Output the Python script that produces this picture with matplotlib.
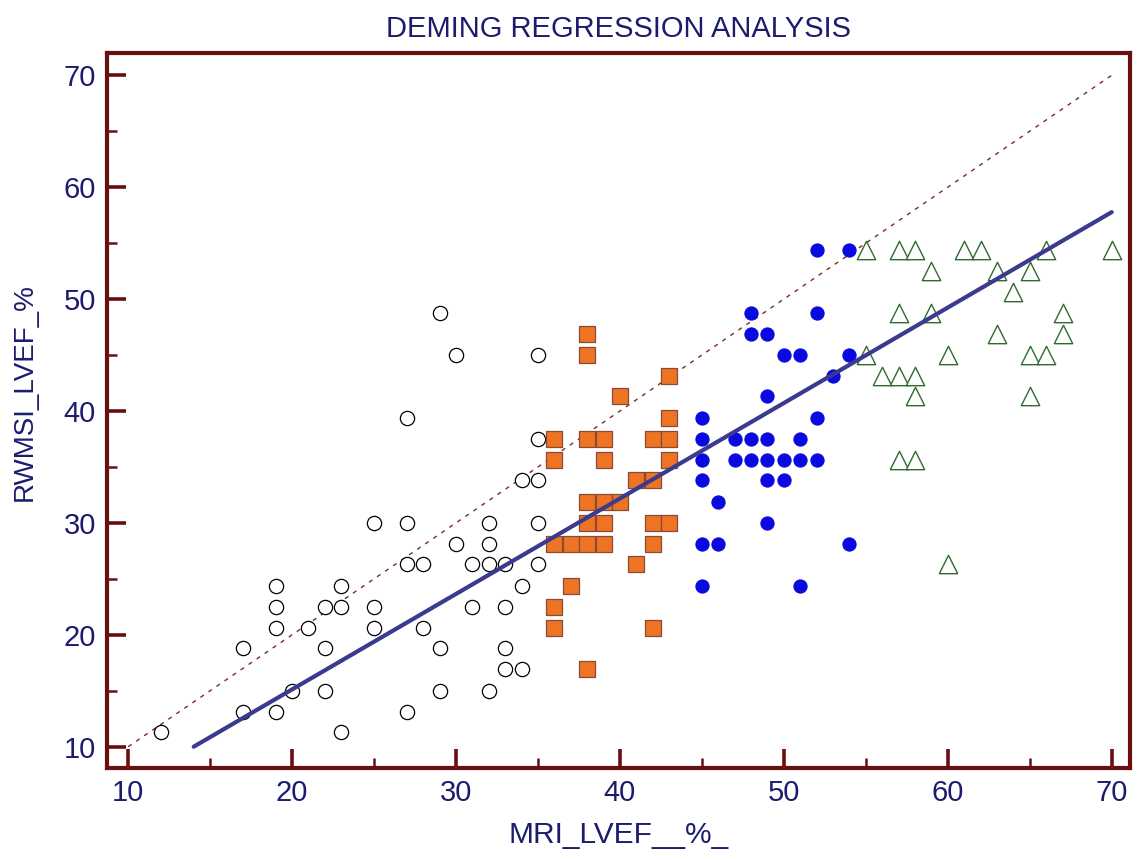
# Deming regression scatter: RWMSI LVEF vs MRI LVEF, grouped in four classes
import matplotlib
matplotlib.use("Agg")
import matplotlib.pyplot as plt
from matplotlib.ticker import MultipleLocator

plt.rcParams["font.family"] = ["Liberation Sans", "DejaVu Sans"]

NAVY = "#1c1c6e"
MAROON = "#6a0f0f"

# ---- group 1: open circles (MRI < 36) ----
circ_x = [12, 17, 17, 19, 19, 19, 19, 20, 21, 22, 22, 22, 23, 23, 23,
          25, 25, 25, 27, 27, 27, 27, 28, 28, 29, 29, 29, 30, 30,
          31, 31, 32, 32, 32, 32, 33, 33, 33, 33, 34, 34, 34,
          35, 35, 35, 35, 35]
circ_y = [11.3, 18.8, 13.1, 24.4, 22.5, 20.6, 13.1, 15.0, 20.6, 22.5, 18.8, 15.0, 24.4, 22.5, 11.3,
          30.0, 22.5, 20.6, 39.4, 30.0, 26.3, 13.1, 26.3, 20.6, 48.8, 18.8, 15.0, 45.0, 28.1,
          26.3, 22.5, 30.0, 28.1, 26.3, 15.0, 26.3, 22.5, 18.8, 16.9, 33.8, 24.4, 16.9,
          45.0, 37.5, 33.8, 30.0, 26.3]

# ---- group 2: orange squares (36-43) ----
sq_x = [36, 36, 36, 36, 36,
        37, 37,
        38, 38, 38, 38, 38, 38, 38,
        39, 39, 39, 39, 39,
        40, 40,
        41, 41,
        42, 42, 42, 42, 42,
        43, 43, 43, 43, 43]
sq_y = [37.5, 35.6, 28.1, 22.5, 20.6,
        28.1, 24.4,
        46.9, 45.0, 37.5, 31.9, 30.0, 28.1, 16.9,
        37.5, 35.6, 31.9, 30.0, 28.1,
        41.3, 31.9,
        33.8, 26.3,
        37.5, 33.8, 30.0, 28.1, 20.6,
        43.1, 39.4, 37.5, 35.6, 30.0]

# ---- group 3: blue dots (45-54) ----
dot_x = [45, 45, 45, 45, 45, 45,
         46, 46,
         47, 47,
         48, 48, 48, 48,
         49, 49, 49, 49, 49, 49,
         50, 50, 50,
         51, 51, 51, 51,
         52, 52, 52, 52,
         53,
         54, 54, 54]
dot_y = [39.4, 37.5, 35.6, 33.8, 28.1, 24.4,
         31.9, 28.1,
         37.5, 35.6,
         48.8, 46.9, 37.5, 35.6,
         46.9, 41.3, 37.5, 35.6, 33.8, 30.0,
         45.0, 35.6, 33.8,
         45.0, 37.5, 35.6, 24.4,
         54.4, 48.8, 39.4, 35.6,
         43.1,
         54.4, 45.0, 28.1]

# ---- group 4: green triangles (MRI >= 55) ----
tri_x = [55, 55,
         56,
         57, 57, 57, 57,
         58, 58, 58, 58,
         59, 59,
         60, 60,
         61, 62,
         63, 63,
         64,
         65, 65, 65,
         66, 66,
         67, 67,
         70]
tri_y = [54.4, 45.0,
         43.1,
         54.4, 48.8, 43.1, 35.6,
         54.4, 43.1, 41.3, 35.6,
         52.5, 48.8,
         45.0, 26.3,
         54.4, 54.4,
         52.5, 46.9,
         50.6,
         52.5, 45.0, 41.3,
         54.4, 45.0,
         48.8, 46.9,
         54.4]

fit_intercept = -1.94
fit_slope = 0.853
fit_range = [14, 70]
ident_range = [10, 70]


def plot():
    fig, ax = plt.subplots(figsize=(11.4, 8.6), dpi=100)
    fig.subplots_adjust(left=0.094, right=0.991, top=0.938, bottom=0.107)

    ax.scatter(circ_x, circ_y, s=105, marker="o", facecolors="white",
               edgecolors="black", linewidths=0.9, zorder=3)
    ax.scatter(sq_x, sq_y, s=118, marker="s", facecolors="#ee7424",
               edgecolors="#8a4a36", linewidths=0.9, zorder=3)
    ax.scatter(dot_x, dot_y, s=90, marker="o", facecolors="#0a0ae0",
               edgecolors="#0a0ae0", linewidths=0.8, zorder=3)
    ax.scatter(tri_x, tri_y, s=175, marker="^", facecolors="white",
               edgecolors="#2f6a2f", linewidths=1.0, zorder=3)

    ax.plot(ident_range, ident_range, color="#7a2a2a", lw=1.0,
            linestyle=(0, (3, 4)), zorder=2)
    fx = fit_range
    fy = [fit_intercept + fit_slope * v for v in fx]
    ax.plot(fx, fy, color="#3a3a8e", lw=3.0, solid_capstyle="round", zorder=4)

    ax.set_xlim(8.72, 71.1)
    ax.set_ylim(8.1, 71.96)
    ax.xaxis.set_major_locator(MultipleLocator(10))
    ax.xaxis.set_minor_locator(MultipleLocator(5))
    ax.yaxis.set_major_locator(MultipleLocator(10))
    ax.yaxis.set_minor_locator(MultipleLocator(5))

    for sp in ax.spines.values():
        sp.set_color(MAROON)
        sp.set_linewidth(3)
    ax.tick_params(which="major", direction="in", length=14, width=2.6,
                   color=MAROON, labelcolor=NAVY, labelsize=21, pad=8)
    ax.tick_params(which="minor", direction="in", length=7, width=1.8,
                   color=MAROON)

    ax.set_title("DEMING REGRESSION ANALYSIS", color=NAVY, fontsize=21, pad=12)
    ax.set_xlabel("MRI_LVEF__%_", color=NAVY, fontsize=21.5, labelpad=10)
    ax.set_ylabel("RWMSI_LVEF_%", color=NAVY, fontsize=20)
    ax.yaxis.set_label_coords(-0.068, 0.526)

    fig.savefig("out.png", dpi=100, facecolor="white")


if __name__ == "__main__":
    plot()
